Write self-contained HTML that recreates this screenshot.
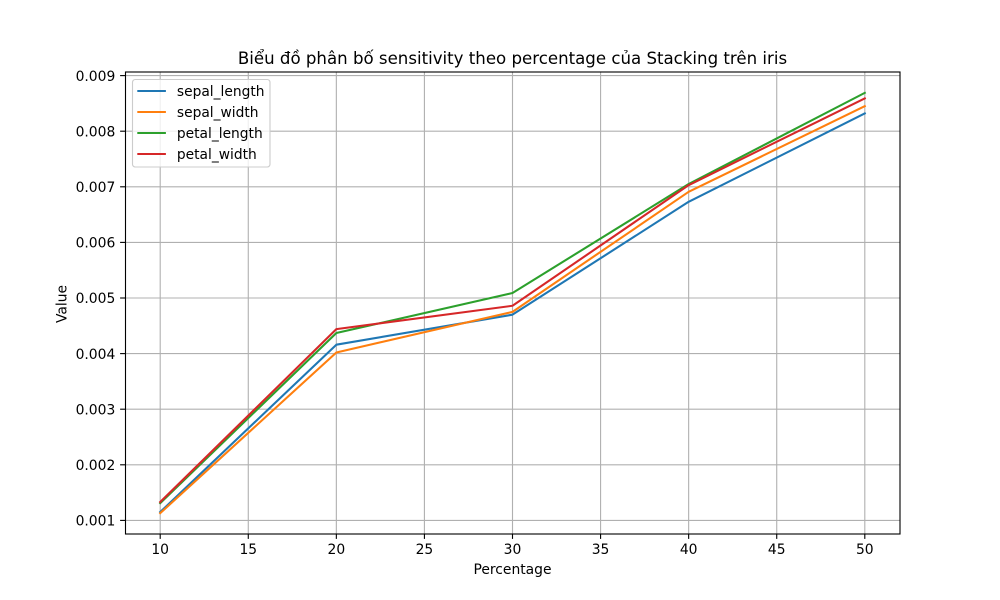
<!DOCTYPE html>
<html lang="vi">
<head>
<meta charset="utf-8">
<title>Biểu đồ phân bố sensitivity</title>
<style>
html,body{margin:0;padding:0;background:#fff;}
svg{display:block;font-family:"DejaVu Sans","Liberation Sans",sans-serif;fill:#000;}
</style>
</head>
<body>
<svg id="chart" width="1000" height="600" viewBox="0 0 1000 600" xmlns="http://www.w3.org/2000/svg">
  <rect x="0" y="0" width="1000" height="600" fill="#ffffff"/>
  <rect x="125" y="72" width="775" height="462" fill="#ffffff"/>
  <g id="grid"></g>
  <g id="series"></g>
  <rect x="125.5" y="72" width="774.5" height="462" fill="none" stroke="#000" stroke-width="1.11"/>
  <g id="ticks"></g>
  <text x="512.5" y="64" font-size="16.62" text-anchor="middle">Biểu đồ phân bố sensitivity theo percentage của Stacking trên iris</text>
  <text x="512.5" y="574" font-size="13.89" text-anchor="middle">Percentage</text>
  <text transform="translate(66.5,304) rotate(-90)" font-size="13.89" text-anchor="middle">Value</text>
  <g id="legend">
    <rect x="132.5" y="79.5" width="137.5" height="87.5" rx="2.8" ry="2.8" fill="#ffffff" fill-opacity="0.8" stroke="#cccccc" stroke-width="1.11"/>
  </g>
</svg>
<script>
const categories = [10, 20, 30, 40, 50];
const sepalLength = [0.00115, 0.00416, 0.00470, 0.00673, 0.00832];
const sepalWidth = [0.00113, 0.00402, 0.00475, 0.00691, 0.00845];
const petalLength = [0.00131, 0.00437, 0.00509, 0.00705, 0.00869];
const petalWidth = [0.00133, 0.00444, 0.00486, 0.00703, 0.00859];
const seriesNames = ['sepal_length', 'sepal_width', 'petal_length', 'petal_width'];
const xTickLabels = [10, 15, 20, 25, 30, 35, 40, 45, 50];
const yTickLabels = ['0.001', '0.002', '0.003', '0.004', '0.005', '0.006', '0.007', '0.008', '0.009'];

const NS = 'http://www.w3.org/2000/svg';
const colors = ['#1f77b4', '#ff7f0e', '#2ca02c', '#d62728'];
const allSeries = [sepalLength, sepalWidth, petalLength, petalWidth];
const xScale = v => 160.2 + (v - 10) * (864.8 - 160.2) / 40;
const yScale = v => 520.4 - (v - 0.001) * 55.6 / 0.001;
const gridG = document.getElementById('grid');
const ticksG = document.getElementById('ticks');
const seriesG = document.getElementById('series');
const legendG = document.getElementById('legend');

function mk(tag, attrs, parent, text) {
  const el = document.createElementNS(NS, tag);
  for (const k in attrs) el.setAttribute(k, attrs[k]);
  if (text !== undefined) el.textContent = text;
  parent.appendChild(el);
  return el;
}

xTickLabels.forEach(t => {
  const x = xScale(t);
  const g = mk('line', {x1: x, x2: x, y1: 72, y2: 534, stroke: '#b0b0b0', 'stroke-width': 1.11}, gridG);
  
  
  const m = mk('line', {x1: x, x2: x, y1: 534, y2: 538.9, stroke: '#000', 'stroke-width': 1.11}, ticksG);
  
  
  const l = mk('text', {x: x, y: 554, 'font-size': 13.89, 'text-anchor': 'middle'}, ticksG, String(t));
  
  
});

yTickLabels.forEach(t => {
  const y = yScale(parseFloat(t));
  const g = mk('line', {x1: 125, x2: 900, y1: y, y2: y, stroke: '#b0b0b0', 'stroke-width': 1.11}, gridG);
  
  
  const m = mk('line', {x1: 120.1, x2: 125, y1: y, y2: y, stroke: '#000', 'stroke-width': 1.11}, ticksG);
  
  
  const l = mk('text', {x: 115.3, y: y + 5.2, 'font-size': 13.89, 'text-anchor': 'end'}, ticksG, t);
  
  
});

allSeries.forEach((vals, i) => {
  const pts = vals.map((v, j) => xScale(categories[j]).toFixed(2) + ',' + yScale(v).toFixed(2)).join(' ');
  const p = mk('polyline', {points: pts, fill: 'none', stroke: colors[i], 'stroke-width': 2.08, 'stroke-linejoin': 'round', 'stroke-linecap': 'square'}, seriesG);
  
  
});

seriesNames.forEach((name, i) => {
  const y = 91 + i * 21;
  const s = mk('line', {x1: 137.3, x2: 165.9, y1: y, y2: y, stroke: colors[i], 'stroke-width': 2.08}, legendG);
  
  
  const t = mk('text', {x: 176.9, y: y + 5, 'font-size': 13.8}, legendG, name);
  
  
});
</script>
</body>
</html>
